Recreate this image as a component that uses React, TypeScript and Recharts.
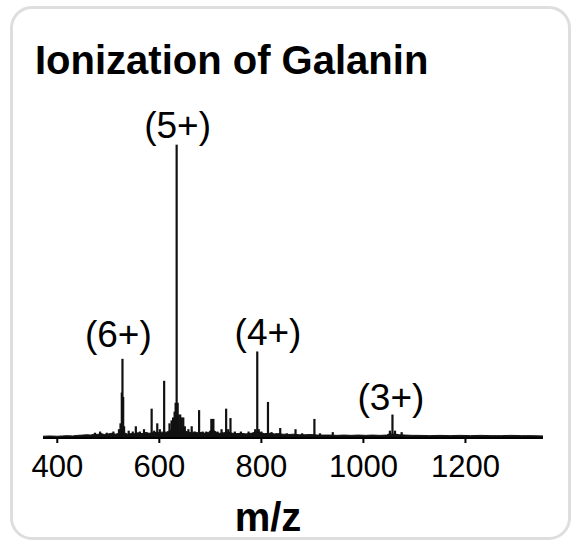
import React from 'react';
import { ComposedChart, Area, Bar, XAxis, YAxis, ReferenceDot } from 'recharts';

const TITLE = 'Ionization of Galanin';
const X_LABEL = 'm/z';
const X_TICKS = [400, 600, 800, 1000, 1200];
const X_DOMAIN: [number, number] = [372, 1352];
const Y_DOMAIN: [number, number] = [0, 120];

// baseline noise of the spectrum: [m/z, relative intensity]
const noise: [number, number][] = [
  [372, 0.6], [385, 0.7], [400, 0.6], [410, 0.7], [420, 0.8], [430, 0.7], [440, 0.9],
  [450, 1.0], [458, 1.1], [466, 1.0], [472, 1.3], [478, 1.2], [486, 1.5], [492, 1.2],
  [500, 1.4], [506, 1.6], [514, 1.3], [518, 1.5], [534, 1.6], [538, 1.3], [544, 1.5],
  [550, 1.4], [558, 1.8], [566, 1.5], [574, 1.9], [580, 1.6], [590, 1.9], [600, 1.8],
  [604, 2.0], [614, 2.0], [618, 2.3], [622, 2.6], [628, 3.0], [640, 3.0], [646, 2.6],
  [652, 2.3], [656, 2.0], [660, 1.9], [666, 2.0], [674, 1.8], [682, 1.9], [690, 1.6],
  [696, 1.9], [699, 2.4], [709, 2.4], [712, 1.8], [718, 1.6], [726, 1.8], [736, 1.9],
  [744, 1.6], [752, 1.5], [760, 1.6], [770, 1.4], [780, 1.6], [784, 1.8], [789, 2.4],
  [798, 1.8], [806, 1.5], [818, 1.6], [826, 1.4], [832, 1.5], [842, 1.3], [856, 1.2],
  [862, 1.3], [874, 1.1], [886, 1.1], [896, 1.2], [910, 1.0], [922, 1.0], [934, 1.0],
  [948, 0.9], [962, 1.0], [976, 0.9], [990, 1.0], [1004, 0.9], [1018, 1.0], [1032, 0.9],
  [1046, 1.0], [1050, 1.4], [1064, 1.3], [1070, 1.1], [1082, 1.0], [1096, 0.9],
  [1110, 0.9], [1130, 0.8], [1150, 0.9], [1170, 0.8], [1190, 0.9], [1210, 0.8],
  [1230, 0.9], [1250, 0.8], [1270, 0.8], [1290, 0.9], [1310, 0.8], [1330, 0.8], [1352, 0.7],
];

// centroid peaks: [m/z, relative intensity]
const peaks: [number, number][] = [
  [474, 1.8], [484, 2.2], [497, 1.8], [510, 2.2], [521, 3.0], [524, 5.0],
  [526.5, 15.5], [527.8, 27.0], [529.2, 14.0], [531, 4.0], [540, 2.5], [548, 2.2],
  [554, 4.0], [562, 2.2], [570, 3.0], [585, 10.0], [590, 2.5], [596, 5.0], [601, 3.0],
  [609.5, 19.5], [620, 5.0], [624, 6.0], [627, 7.0], [630, 9.0], [632, 12.0],
  [634, 100.0], [636, 12.0], [638, 8.0], [641, 8.0], [644, 7.0], [647, 7.0], [650, 4.0],
  [657, 3.0], [663.5, 4.0], [670, 2.2], [678, 9.5], [685, 2.2], [692, 2.2],
  [702, 6.5], [704, 6.5], [706, 6.5], [714, 2.2], [722, 3.0], [731, 10.0], [735, 3.0],
  [739.5, 6.8], [748, 2.2], [760, 2.2], [775, 2.2], [788, 3.0], [792, 29.5], [795, 3.0],
  [800, 2.2], [813, 12.3], [820, 2.0], [837, 3.4], [850, 1.6], [867, 3.0], [880, 1.6],
  [904, 6.5], [915, 1.6], [940, 2.0], [1052, 2.5], [1057, 8.0], [1062, 2.5], [1075, 2.0],
];

// charge state annotations: text anchored (bottom centre) at [m/z, intensity]
const annotationText = ['(6+)', '(5+)', '(4+)', '(3+)'];
const annotationMz = [519.6, 635.7, 813, 1054];
const annotationY = [31, 102.3, 31.7, 9.6];

const rows = [
  ...noise.map(([mz, v]) => ({ mz, noise: v } as any)),
  ...peaks.map(([mz, h]) => ({ mz, peak: h } as any)),
].sort((a, b) => a.mz - b.mz);

const FONT = '"Liberation Sans", Arial, Helvetica, sans-serif';

const StickShape = (p: any) => {
  if (p.height == null || p.width == null || !isFinite(p.x) || !isFinite(p.y)) return null;
  const cx = p.x + p.width / 2;
  return <rect x={cx - 1.1} y={p.y} width={2.2} height={Math.max(0, p.height)} fill="#111" />;
};

export default function App() {
  return (
    <div style={{ position: 'absolute', left: 0, top: 0, width: 577, height: 542, background: '#fff' }}>
      <div
        style={{
          position: 'absolute',
          left: 10,
          top: 6,
          width: 561,
          height: 534,
          border: '3px solid #dedede',
          borderRadius: 22,
          boxSizing: 'border-box',
        }}
      />
      <div style={{ position: 'absolute', left: 0, top: 0 }}>
        <ComposedChart
          width={577}
          height={542}
          data={rows}
          margin={{ top: 86, right: 34, bottom: 4, left: 43 }}
        >
          <YAxis hide type="number" domain={Y_DOMAIN} allowDataOverflow />
          <XAxis
            dataKey="mz"
            type="number"
            domain={X_DOMAIN}
            ticks={X_TICKS}
            interval={0}
            allowDataOverflow
            height={100}
            tickSize={5}
            tickMargin={12}
            axisLine={{ stroke: '#000', strokeWidth: 2 }}
            tickLine={{ stroke: '#000', strokeWidth: 2 }}
            tick={{ fontSize: 31, fill: '#000', fontFamily: FONT }}
            label={{
              content: (p: any) => {
                const vb = p.viewBox || { x: 43, y: 438, width: 500 };
                return (
                  <text
                    x={vb.x + vb.width / 2 - 25}
                    y={vb.y + 93}
                    textAnchor="middle"
                    fontSize={40}
                    fontWeight="bold"
                    fontFamily={FONT}
                    fill="#000"
                  >
                    {X_LABEL}
                  </text>
                );
              },
            }}
          />
          <Area
            dataKey="noise"
            type="linear"
            connectNulls
            stroke="#111"
            strokeWidth={1}
            fill="#111"
            fillOpacity={1}
            baseValue={0}
            isAnimationActive={false}
            dot={false}
            activeDot={false}
          />
          <Bar dataKey="peak" barSize={2} fill="#111" shape={StickShape} isAnimationActive={false} />
          {annotationText.map((t, i) => (
            <ReferenceDot
              key={t}
              x={annotationMz[i]}
              y={annotationY[i]}
              r={0}
              fill="none"
              stroke="none"
              label={{ value: t, position: 'top', offset: 0, fontSize: 37, fill: '#000', fontFamily: FONT }}
            />
          ))}
        </ComposedChart>
      </div>
      <svg
        width={577}
        height={542}
        style={{ position: 'absolute', left: 0, top: 0, pointerEvents: 'none' }}
      >
        <text x={35} y={74} fontSize={40} fontWeight="bold" fontFamily={FONT} fill="#000">
          {TITLE}
        </text>
      </svg>
    </div>
  );
}
